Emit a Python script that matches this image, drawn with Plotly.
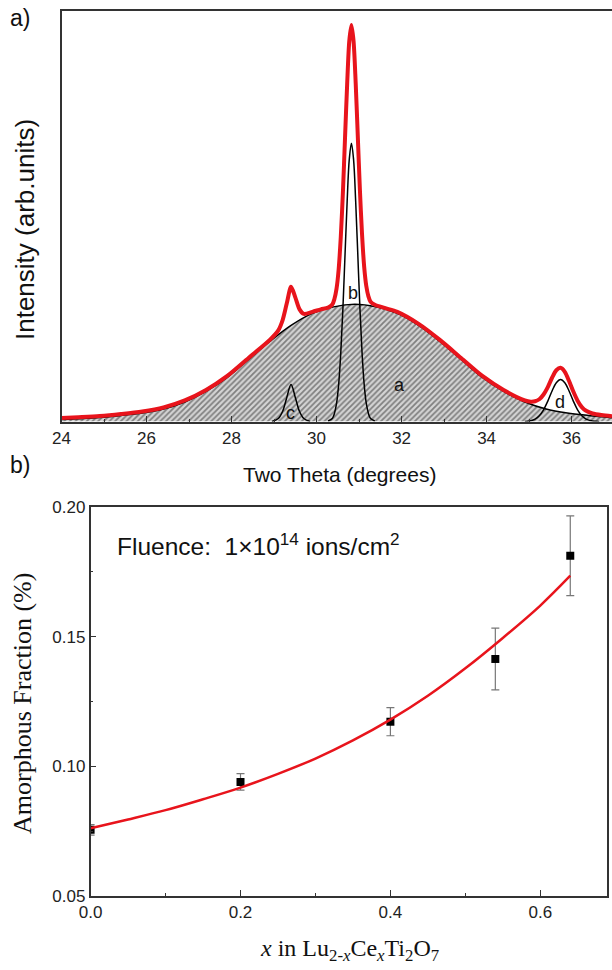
import plotly.graph_objects as go

# ---------------- Panel a) data (read from picture) ----------------
theta_a = [24.0, 24.4, 24.9, 25.4, 25.9, 26.4, 26.9, 27.4, 27.9, 28.4, 28.9, 29.4, 29.9,
           30.4, 30.9, 31.4, 31.9, 32.4, 32.9, 33.4, 33.9, 34.4, 34.9, 35.4, 35.9, 36.4, 36.95]
int_a = [2, 2.8, 4, 6, 8.5, 12.5, 19.5, 30, 44, 62, 80, 96, 108,
         114.5, 117, 114.5, 108, 96, 80, 62, 44, 30, 19.5, 12.5, 8.5, 6, 3.8]

theta_b = [30.27, 30.37, 30.42, 30.47, 30.52, 30.57, 30.62, 30.67, 30.72, 30.77, 30.82,
           30.87, 30.92, 30.97, 31.02, 31.07, 31.12, 31.17, 31.22, 31.27, 31.37]
int_b = [0.5, 3, 8, 18, 37, 69, 113, 167, 220, 262, 278,
         262, 220, 167, 113, 69, 37, 18, 8, 3, 0.5]

theta_c = [28.95, 29.1, 29.2, 29.3, 29.4, 29.5, 29.6, 29.7, 29.85]
int_c = [0, 3, 10, 24, 37, 24, 10, 3, 0]

theta_d = [34.9, 35.04, 35.14, 35.24, 35.34, 35.44, 35.54, 35.64, 35.74, 35.84, 35.94,
           36.04, 36.14, 36.24, 36.34, 36.49, 36.65]
int_d = [0, 0.8, 2.4, 5.7, 11.7, 20.4, 30.5, 38.8, 42, 38.8, 30.5,
         20.4, 11.7, 5.7, 2.4, 0.5, 0]

theta_sum = [24.0, 24.4, 24.9, 25.4, 25.9, 26.4, 26.9, 27.4, 27.9, 28.4, 28.9, 29.1, 29.2,
             29.3, 29.4, 29.5, 29.6, 29.7, 29.9, 30.1, 30.27, 30.37, 30.42, 30.47, 30.52,
             30.57, 30.62, 30.67, 30.72, 30.77, 30.82, 30.87, 30.92, 30.97, 31.02, 31.07,
             31.12, 31.17, 31.22, 31.27, 31.37, 31.6, 31.9, 32.4, 32.9, 33.4, 33.9, 34.4,
             34.9, 35.04, 35.14, 35.24, 35.34, 35.44, 35.54, 35.64, 35.74, 35.84, 35.94,
             36.04, 36.14, 36.24, 36.34, 36.49, 36.7, 36.95]
int_sum = [3.5, 4.3, 5.5, 7.5, 10, 14, 21, 31.5, 45.5, 63.5, 81.5, 91, 101,
           118, 134.5, 124, 112, 107.5, 109.5, 112, 113.8, 116.8, 122.3, 132.7, 152,
           184.5, 229, 283.5, 337, 380, 396, 380, 338.5, 285, 231, 187,
           154.6, 135.3, 125, 119.7, 116.7, 113.4, 109.5, 97.5, 81.5, 63.5, 45.5, 31.5,
           21, 19.8, 20.2, 22.2, 27, 34.4, 43.7, 51.2, 53.6, 49.6, 40.4,
           29.9, 20.8, 14.4, 10.7, 8, 6.4, 5.3]

peak_labels = ["a", "b", "c", "d"]
peak_label_theta = [31.96, 30.86, 29.38, 35.73]
peak_label_int = [36, 128, 8, 19]

top_xticks = [24, 26, 28, 30, 32, 34, 36]

# ---------------- Panel b) data (read from picture) ----------------
x_ce = [0.0, 0.2, 0.4, 0.54, 0.64]
frac = [0.0755, 0.0940, 0.1172, 0.1414, 0.1812]
frac_err = [0.002, 0.0032, 0.0054, 0.0119, 0.0154]

x_fit = [0.0, 0.05, 0.1, 0.15, 0.2, 0.25, 0.3, 0.35, 0.4, 0.45, 0.5, 0.55, 0.6, 0.64]
y_fit = [0.0761, 0.0795, 0.0831, 0.0873, 0.0918, 0.0971, 0.1030, 0.1100, 0.1180,
         0.1272, 0.1378, 0.1495, 0.1620, 0.1735]

bottom_xticks = [0.0, 0.2, 0.4, 0.6]
bottom_yticks = [0.05, 0.10, 0.15, 0.20]

W, H = 612, 970
SANS = "Liberation Sans, Arial, sans-serif"
SERIF = "Liberation Serif, Times New Roman, serif"
AX = "#333333"


def px(x):
    return x / W


def py(y):
    return 1 - y / H


fig = go.Figure()

# amorphous hump (hatched)
fig.add_trace(go.Scatter(
    x=theta_a, y=int_a, mode="lines", line=dict(color="black", width=1.5, shape="spline"),
    fill="tozeroy", fillcolor="#d0d0d0",
    fillpattern=dict(shape="/", size=4, solidity=0.45, fgcolor="#2a2a2a", bgcolor="#d4d4d4"),
    xaxis="x", yaxis="y", showlegend=False))
for tx, ty in [(theta_b, int_b), (theta_c, int_c), (theta_d, int_d)]:
    fig.add_trace(go.Scatter(x=tx, y=ty, mode="lines",
                             line=dict(color="black", width=1.5, shape="spline"),
                             xaxis="x", yaxis="y", showlegend=False))
fig.add_trace(go.Scatter(x=theta_sum, y=int_sum, mode="lines",
                         line=dict(color="#e8141c", width=4, shape="spline", smoothing=0.8),
                         xaxis="x", yaxis="y", showlegend=False))

# panel b
fig.add_trace(go.Scatter(
    x=x_ce, y=frac, mode="markers", cliponaxis=True,
    marker=dict(symbol="square", size=8, color="black"),
    error_y=dict(type="data", array=frac_err, color="#777777", thickness=1.2, width=4),
    xaxis="x2", yaxis="y2", showlegend=False))
fig.add_trace(go.Scatter(x=x_fit, y=y_fit, mode="lines",
                         line=dict(color="#e8141c", width=2.5, shape="spline"),
                         xaxis="x2", yaxis="y2", showlegend=False))


def ann(x, y, text, size, family=SANS, angle=0, xref="paper", yref="paper", xanchor="center"):
    return dict(x=x, y=y, xref=xref, yref=yref, text=text, showarrow=False,
                xanchor=xanchor, yanchor="middle", textangle=angle,
                font=dict(family=family, size=size, color="#111"))


annotations = []
for lab, lx, ly in zip(peak_labels, peak_label_theta, peak_label_int):
    annotations.append(ann(lx, ly, lab, 18, xref="x", yref="y"))

annotations += [
    ann(px(20), py(18), "a)", 23),
    ann(px(20), py(465), "b)", 23),
    ann(px(25), py(230), "Intensity (arb.units)", 26, angle=-90),
    ann(px(339), py(474), "Two Theta (degrees)", 21),
    ann(px(115), py(544), "Fluence:  1×10<sup>14</sup> ions/cm<sup>2</sup>", 24.5, xanchor="left"),
    ann(px(22), py(704), "Amorphous Fraction (%)", 26, family=SERIF, angle=-90),
    ann(px(349), py(950),
        "<i>x</i> in Lu<sub>2-<i>x</i></sub>Ce<sub><i>x</i></sub>Ti<sub>2</sub>O<sub>7</sub>",
        24, family=SERIF),
]

fig.update_layout(
    width=W, height=H, autosize=False,
    margin=dict(l=0, r=0, t=0, b=0, autoexpand=False),
    paper_bgcolor="white", plot_bgcolor="white",
    showlegend=False,
    annotations=annotations,
    xaxis=dict(domain=[px(61.5), 1.0], range=[24, 36.95], anchor="y", automargin=False,
               showgrid=False, zeroline=False, showline=True, linecolor=AX, linewidth=1.5,
               mirror=True, ticks="inside", ticklen=6, tickwidth=1.2, tickcolor=AX,
               tickvals=top_xticks, minor=dict(dtick=1, ticks="inside", ticklen=3,
                                               tickcolor=AX, showgrid=False),
               tickfont=dict(family=SANS, size=17, color="#222")),
    yaxis=dict(domain=[py(421.5), py(11)], range=[0, 410], anchor="x", automargin=False,
               showgrid=False, zeroline=False, showline=True, linecolor=AX, linewidth=1.5,
               mirror=False, showticklabels=False, ticks=""),
    xaxis2=dict(domain=[px(90.6), px(607)], range=[0, 0.689], anchor="y2", automargin=False,
                showgrid=False, zeroline=False, showline=True, linecolor=AX, linewidth=1.5,
                mirror=True, ticks="inside", ticklen=6, tickwidth=1.2, tickcolor=AX,
                tickvals=bottom_xticks, tickformat=".1f",
                minor=dict(dtick=0.1, ticks="inside", ticklen=3, tickcolor=AX, showgrid=False),
                tickfont=dict(family=SANS, size=17, color="#222")),
    yaxis2=dict(domain=[py(896), py(507)], range=[0.05, 0.20], anchor="x2", automargin=False,
                showgrid=False, zeroline=False, showline=True, linecolor=AX, linewidth=1.5,
                mirror=True, ticks="inside", ticklen=6, tickwidth=1.2, tickcolor=AX,
                tickvals=bottom_yticks, tickformat=".2f",
                minor=dict(dtick=0.025, ticks="inside", ticklen=3, tickcolor=AX, showgrid=False),
                tickfont=dict(family=SANS, size=17, color="#222")),
)

fig.write_html("out.html")
